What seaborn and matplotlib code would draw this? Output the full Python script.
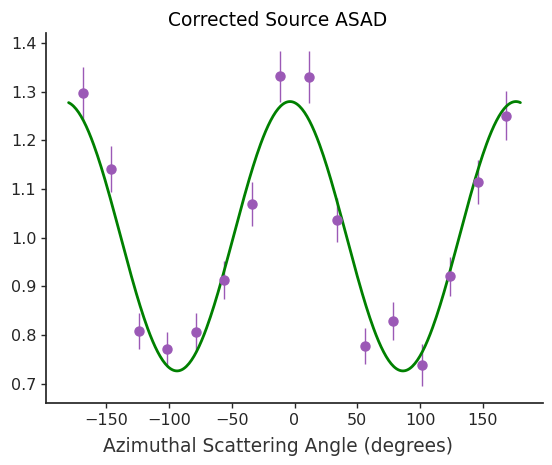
import numpy as np
import matplotlib
matplotlib.use("Agg")
import matplotlib.pyplot as plt
import seaborn as sns

# binned azimuthal scattering angles (deg) and corrected ASAD values
angles = [-168.75, -146.25, -123.75, -101.25, -78.75, -56.25, -33.75, -11.25,
          11.25, 33.75, 56.25, 78.75, 101.25, 123.75, 146.25, 168.75]
counts = [1.297, 1.141, 0.808, 0.771, 0.806, 0.913, 1.069, 1.332,
          1.330, 1.036, 0.777, 0.828, 0.738, 0.921, 1.114, 1.251]
errors = [0.055, 0.047, 0.037, 0.035, 0.040, 0.040, 0.045, 0.053,
          0.054, 0.045, 0.037, 0.039, 0.043, 0.040, 0.045, 0.051]

# modulation fit parameters
fit_offset = 1.003
fit_amp = 0.277
fit_phase = -3.6  # degrees

sns.set_theme(style="ticks")
plt.rcParams["font.family"] = ["DejaVu Sans"]

fig = plt.figure(figsize=(5.52, 4.65), dpi=100)
ax = fig.add_axes([46 / 552, 1 - 403 / 465, (543 - 46) / 552, (403 - 33) / 465])

# data points with error bars
ax.errorbar(angles, counts, yerr=errors, fmt="o", color="#9b59b6",
            markersize=6.5, elinewidth=1.0, capsize=0)

# fitted modulation curve
phi = np.linspace(-180, 180, 361)
model = fit_offset + fit_amp * np.cos(np.radians(2 * (phi - fit_phase)))
sns.lineplot(x=phi, y=model, color="green", linewidth=2, ax=ax)

ax.set_xlim(-198, 198)
ax.set_ylim(0.660, 1.421)
ax.set_xticks([-150, -100, -50, 0, 50, 100, 150])
ax.set_yticks([0.7, 0.8, 0.9, 1.0, 1.1, 1.2, 1.3, 1.4])
ax.tick_params(labelsize=11.5, length=3.5, width=1, colors=".15")
for s in ["left", "bottom"]:
    ax.spines[s].set_color(".15")
sns.despine(ax=ax)

fig.text(0.503, 1 - 25.5 / 465, "Corrected Source ASAD", ha="center",
         va="baseline", fontsize=13.4, color="black")
fig.text(0.503, 1 - 451.5 / 465, "Azimuthal Scattering Angle (degrees)",
         ha="center", va="baseline", fontsize=13.4, color=".2")

fig.savefig("out.png", dpi=100)
